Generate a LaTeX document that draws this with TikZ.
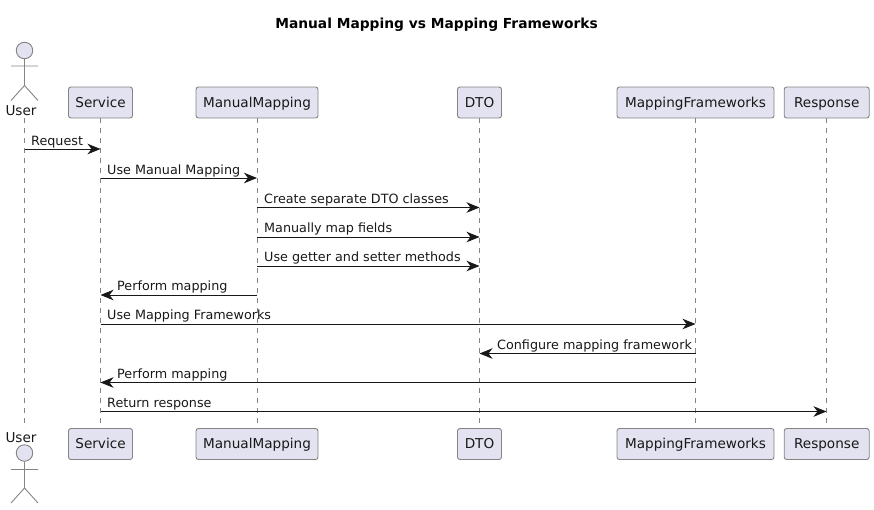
\documentclass[tikz,border=0pt]{standalone}
\usepackage{fontspec}
\setmainfont{DejaVu Sans}
\usetikzlibrary{arrows.meta}
\definecolor{pfill}{HTML}{E2E2F0}
\definecolor{pline}{HTML}{848484}
\definecolor{ink}{HTML}{181818}
\tikzset{
  x=1pt,y=-1pt,
  part/.style={draw=pline,fill=pfill,rounded corners=2.5pt,line width=.9pt,minimum height=31pt,inner sep=0pt,text height=11.5pt,text depth=2.5pt,text=ink,font=\fontsize{13.6}{16}\selectfont},
  lifeline/.style={draw=pline,line width=.8pt,dash pattern=on 5pt off 5pt},
  msg/.style={draw=ink,line width=.9pt,-{Stealth[length=13pt,width=10.5pt,inset=4pt,fill=ink]}},
  lbl/.style={font=\fontsize{12.75}{15}\selectfont,text=ink,inner sep=0pt,anchor=base west},
  actorline/.style={draw=pline,line width=.9pt,fill=none},
  actorname/.style={font=\fontsize{13.6}{16}\selectfont,text=ink,inner sep=0pt,anchor=base},
}
\newcommand{\msgrow}[2]{%
  \coordinate (U#1) at (24.5,#2);\coordinate (S#1) at (100.5,#2);\coordinate (M#1) at (257,#2);
  \coordinate (D#1) at (479.5,#2);\coordinate (F#1) at (695.5,#2);\coordinate (R#1) at (826.5,#2);}
\begin{document}
\begin{tikzpicture}
\useasboundingbox (0,0) rectangle (874,509);
\coordinate (Utop) at (24.5,118);\coordinate (Ubot) at (24.5,428);
\node[part,minimum width=64pt] (Stop) at (100.5,102.5) {Service};
\node[part,minimum width=122pt] (Mtop) at (257,102.5) {ManualMapping};
\node[part,minimum width=44pt] (Dtop) at (479.5,102.5) {DTO};
\node[part,minimum width=157pt] (Ftop) at (695.5,102.5) {MappingFrameworks};
\node[part,minimum width=85pt] (Rtop) at (826.7,102.5) {Response};
\node[part,minimum width=64pt] (Sbot) at (100.5,444) {Service};
\node[part,minimum width=122pt] (Mbot) at (257,444) {ManualMapping};
\node[part,minimum width=44pt] (Dbot) at (479.5,444) {DTO};
\node[part,minimum width=157pt] (Fbot) at (695.5,444) {MappingFrameworks};
\node[part,minimum width=85pt] (Rbot) at (826.7,444) {Response};
\draw[lifeline] (Utop) -- (Ubot);
\draw[lifeline] (Stop.south) -- (Sbot.north);
\draw[lifeline] (Mtop.south) -- (Mbot.north);
\draw[lifeline] (Dtop.south) -- (Dbot.north);
\draw[lifeline] (Ftop.south) -- (Fbot.north);
\draw[lifeline] (Rtop.south) -- (Rbot.north);
\node[font=\fontsize{13.8}{16}\selectfont\bfseries,text=black,inner sep=0pt,anchor=base] (title) at (436.5,28) {Manual Mapping vs Mapping Frameworks};
\node[circle,draw=pline,fill=pfill,line width=.9pt,minimum size=16.5pt,inner sep=0pt] (headT) at (24.5,50.5) {};
\coordinate (hipT) at (24.5,85.5);
\coordinate (armLT) at (11,66);\coordinate (armRT) at (38,66);
\coordinate (legLT) at (11,100.5);\coordinate (legRT) at (38,100.5);
\draw[actorline] (headT.south) -- (hipT) (armLT) -- (armRT) (legLT) -- (hipT) -- (legRT);
\node[actorname] (userT) at (21,115) {User};
\node[circle,draw=pline,fill=pfill,line width=.9pt,minimum size=16.5pt,inner sep=0pt] (headB) at (24.5,453) {};
\coordinate (hipB) at (24.5,488);
\coordinate (armLB) at (11,469.5);\coordinate (armRB) at (38,469.5);
\coordinate (legLB) at (11,503);\coordinate (legRB) at (38,503);
\draw[actorline] (headB.south) -- (hipB) (armLB) -- (armRB) (legLB) -- (hipB) -- (legRB);
\node[actorname] (userB) at (21,442) {User};
\msgrow{1}{149}\msgrow{2}{178}\msgrow{3}{207.5}\msgrow{4}{237}\msgrow{5}{266}
\msgrow{6}{295}\msgrow{7}{324}\msgrow{8}{353.5}\msgrow{9}{382.5}\msgrow{10}{411.5}
\draw[msg] (U1) -- (S1);
\draw[msg] (S2) -- (M2);
\draw[msg] (M3) -- (D3);
\draw[msg] (M4) -- (D4);
\draw[msg] (M5) -- (D5);
\draw[msg] (M6) -- (S6);
\draw[msg] (S7) -- (F7);
\draw[msg] (F8) -- (D8);
\draw[msg] (F9) -- (S9);
\draw[msg] (S10) -- (R10);
\node[lbl] (la) at (31,145) {Request};
\node[lbl] (lb) at (107,174) {Use Manual Mapping};
\node[lbl] (lc) at (264,203) {Create separate DTO classes};
\node[lbl] (ld) at (264,232) {Manually map fields};
\node[lbl] (le) at (264,261) {Use getter and setter methods};
\node[lbl] (lf) at (117,290) {Perform mapping};
\node[lbl] (lg) at (107,319) {Use Mapping Frameworks};
\node[lbl] (lh) at (497,349) {Configure mapping framework};
\node[lbl] (li) at (117,378) {Perform mapping};
\node[lbl] (lj) at (107,407) {Return response};
\end{tikzpicture}
\end{document}
